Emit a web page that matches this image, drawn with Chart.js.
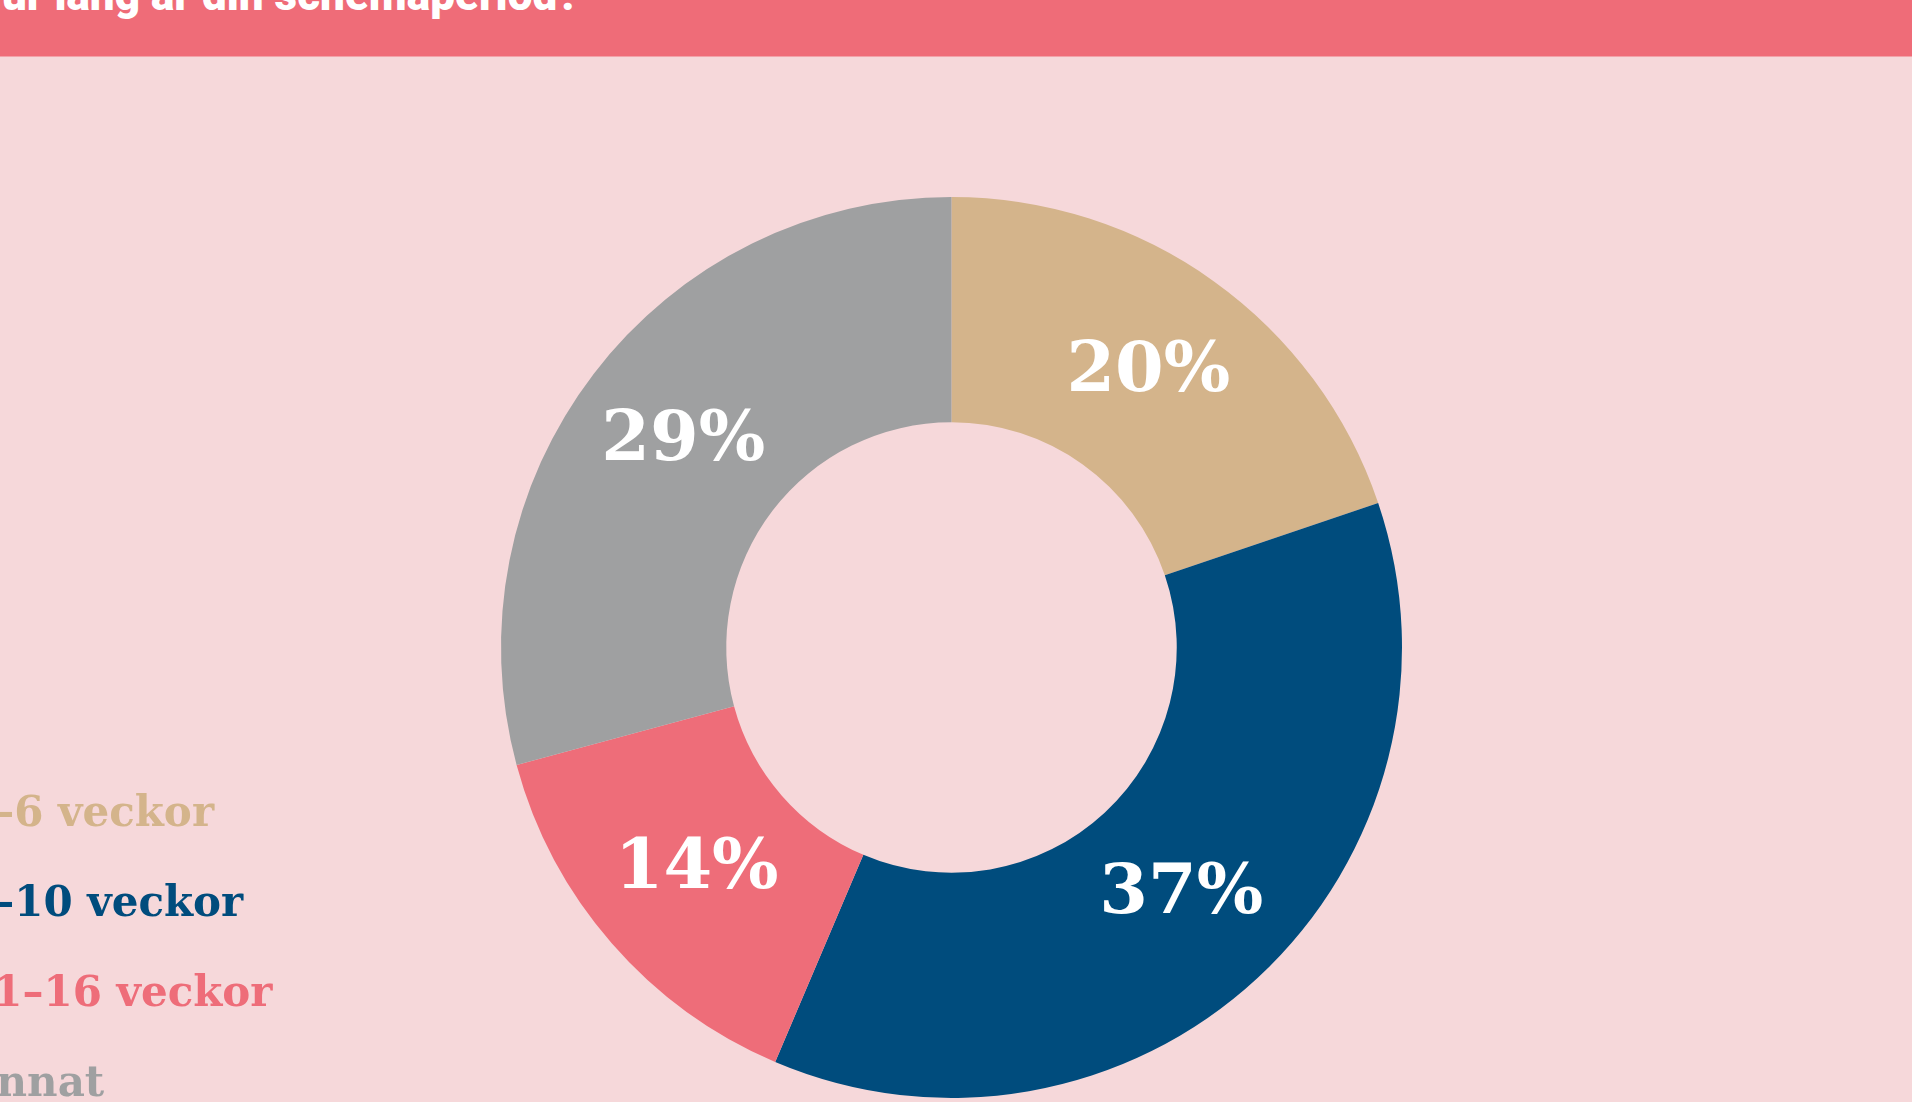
<!DOCTYPE html>
<html lang="sv">
<head>
<meta charset="utf-8">
<title>Hur lång är din schemaperiod?</title>
<script src="https://cdn.jsdelivr.net/npm/chart.js@4.4.1/dist/chart.umd.min.js"></script>
<style>
    html, body {
        margin: 0;
        padding: 0;
        width: 1912px;
        height: 1102px;
        overflow: hidden;
        background: #f6d8da;
    }
    .header {
        position: absolute;
        left: 0;
        top: 0;
        width: 1912px;
        height: 56px;
        background: #ef6c78;
        border-bottom: 1px solid #f3a2a9;
        overflow: hidden;
        z-index: 2;
    }
    .header h1 {
        position: absolute;
        left: -29px;
        top: -25px;
        margin: 0;
        font: 900 44px/40px Roboto, sans-serif;
        color: #fff;
        white-space: nowrap;
    }
    #chart {
        position: absolute;
        left: 0;
        top: 0;
    }
    .legend {
        position: absolute;
        left: -36px;
        top: 767px;
        z-index: 2;
    }
    .legend div {
        font: bold 42px/90px "DejaVu Serif", serif;
        white-space: nowrap;
    }
</style>
</head>
<body>
<div class="header"><h1>Hur lång är din schemaperiod?</h1></div>
<canvas id="chart" width="1912" height="1102"></canvas>
<div class="legend" id="legend"></div>

<script>
const categorias = ['1–6 veckor', '7–10 veckor', '11–16 veckor', 'Annat'];
const valores = [19.8, 36.6, 14.4, 29.2];
const colores = ['#d4b48b', '#004c7d', '#ee6d79', '#9fa0a1'];

// Etiquetas de porcentaje dentro de cada sector
const etiquetasSectores = {
    id: 'etiquetasSectores',
    afterDatasetsDraw(chart) {
        const ctx = chart.ctx;
        const meta = chart.getDatasetMeta(0);
        ctx.save();
        ctx.font = 'bold 70px "DejaVu Serif"';
        ctx.fillStyle = '#ffffff';
        ctx.textAlign = 'center';
        ctx.textBaseline = 'middle';
        meta.data.forEach((arc, i) => {
            const p = arc.tooltipPosition();
            ctx.fillText(Math.round(valores[i]) + '%', p.x, p.y);
        });
        ctx.restore();
    }
};

// Leyenda a la izquierda
const crearLeyenda = () => {
    const cont = document.getElementById('legend');
    categorias.forEach((cat, i) => {
        const item = document.createElement('div');
        item.textContent = cat;
        item.style.color = colores[i];
        cont.appendChild(item);
    });
};

const inicializarGrafico = () => {
    const ctx = document.getElementById('chart');
    new Chart(ctx, {
        type: 'doughnut',
        data: {
            labels: categorias,
            datasets: [{
                data: valores,
                backgroundColor: colores,
                borderWidth: 0
            }]
        },
        options: {
            responsive: false,
            animation: false,
            devicePixelRatio: 1,
            cutout: '50%',
            layout: {
                padding: { left: 500, right: 509, top: 197, bottom: 4 }
            },
            plugins: {
                legend: { display: false },
                tooltip: { enabled: false }
            }
        },
        plugins: [etiquetasSectores]
    });
    crearLeyenda();
};

if (document.readyState === 'loading') {
    document.addEventListener('DOMContentLoaded', inicializarGrafico);
} else {
    inicializarGrafico();
}
</script>
</body>
</html>
